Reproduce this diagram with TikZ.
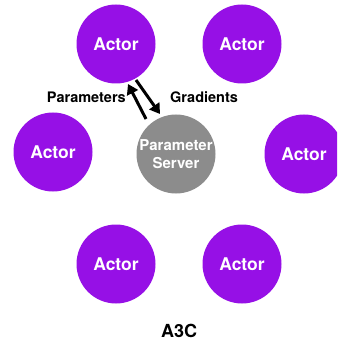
\documentclass[tikz,border=0pt]{standalone}
\usepackage{fontspec}
\setmainfont{TeX Gyre Heros}
\usetikzlibrary{arrows.meta}
\definecolor{actorpurple}{HTML}{9610E6}
\definecolor{servergray}{HTML}{8C8C8C}
\begin{document}
\begin{tikzpicture}[x=1pt,y=-1pt,
  actor/.style={circle, fill=actorpurple, minimum size=79pt, inner sep=0pt,
    text=white, font=\bfseries\fontsize{17.5}{18}\selectfont},
  server/.style={circle, fill=servergray, minimum size=79pt, inner sep=0pt,
    text=white, align=center, font=\bfseries\fontsize{15}{18}\selectfont},
  lbl/.style={font=\bfseries\fontsize{14.5}{16}\selectfont, text=black, inner sep=0pt},
  flow/.style={line width=3pt, -{Triangle[length=10pt,width=12pt]}}]
  \useasboundingbox (0,0) rectangle (337,347);
  \clip (0,0) rectangle (337,347);
  % actors around the parameter server
  \node[actor] (a1) at (116,44) {Actor};
  \node[actor] (a2) at (242,44) {Actor};
  \node[actor] (a3) at (53,152) {Actor};
  \node[actor] (a4) at (304,154) {Actor};
  \node[actor] (a5) at (116,264) {Actor};
  \node[actor] (a6) at (242,264) {Actor};
  \node[server] (ps) at (176,154) {Parameter\\Server};
  % exchange between one actor and the server
  \coordinate (p0) at (146,119);
  \coordinate (p1) at (128,84);
  \coordinate (g0) at (136,80);
  \coordinate (g1) at (160,114);
  \draw[flow] (p0) -- (p1);
  \draw[flow] (g0) -- (g1);
  \node[lbl, anchor=east] (plbl) at (126,97) {Parameters};
  \node[lbl, anchor=west] (glbl) at (170,97) {Gradients};
  \node[font=\bfseries\fontsize{18}{20}\selectfont] (title) at (179,331) {A3C};
\end{tikzpicture}
\end{document}
